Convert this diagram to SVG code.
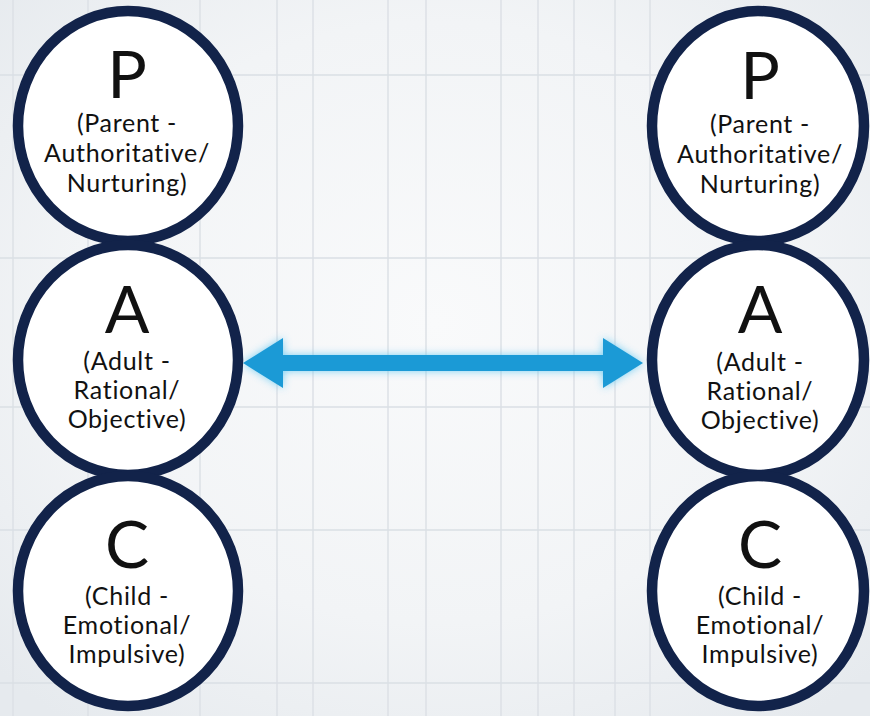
<svg xmlns="http://www.w3.org/2000/svg" width="870" height="716" viewBox="0 0 870 716">
  <defs>
    <radialGradient id="bg" cx="50%" cy="45%" r="70%">
      <stop offset="0" stop-color="#f9fafb"/>
      <stop offset="0.6" stop-color="#f2f4f6"/>
      <stop offset="1" stop-color="#e6eaee"/>
    </radialGradient>
    <filter id="glow" x="-20%" y="-80%" width="140%" height="260%">
      <feGaussianBlur stdDeviation="4"/>
    </filter>
    <style>
      .ring { fill: #ffffff; stroke: #12234a; stroke-width: 10.5; }
      .big { font-family: Lato, "Liberation Sans", sans-serif; font-size: 66px; fill: #111111; text-anchor: middle; }
      .sub { font-family: Lato, "Liberation Sans", sans-serif; font-size: 25px; letter-spacing: 0.7px; font-variant-ligatures: none; fill: #111111; text-anchor: middle; }
      .vg { stroke: #dde1e6; stroke-width: 1.5; }
      .hg { stroke: #dadfe4; stroke-width: 1.5; }
    </style>
  </defs>

  <rect x="0" y="0" width="870" height="716" fill="url(#bg)"/>

  <g id="grid">
    <line class="vg" x1="13" y1="0" x2="13" y2="716"/>
    <line class="vg" x1="88" y1="0" x2="88" y2="716"/>
    <line class="vg" x1="200" y1="0" x2="200" y2="716"/>
    <line class="vg" x1="277" y1="0" x2="277" y2="716"/>
    <line class="vg" x1="313" y1="0" x2="313" y2="716"/>
    <line class="vg" x1="388" y1="0" x2="388" y2="716"/>
    <line class="vg" x1="426" y1="0" x2="426" y2="716"/>
    <line class="vg" x1="501" y1="0" x2="501" y2="716"/>
    <line class="vg" x1="538" y1="0" x2="538" y2="716"/>
    <line class="vg" x1="574" y1="0" x2="574" y2="716"/>
    <line class="vg" x1="615" y1="0" x2="615" y2="716"/>
    <line class="vg" x1="650" y1="0" x2="650" y2="716"/>
    <line class="hg" x1="0" y1="75" x2="870" y2="75"/>
    <line class="hg" x1="0" y1="258" x2="870" y2="258"/>
    <line class="hg" x1="0" y1="407" x2="870" y2="407"/>
    <line class="hg" x1="0" y1="530" x2="870" y2="530"/>
    <line class="hg" x1="0" y1="683" x2="870" y2="683"/>
  </g>

  <g id="connectors">
    <polygon points="243,363 283,338 283,355 603,355 603,338 643,363 603,388 603,371 283,371 283,388" fill="#5cc6f2" opacity="0.8" filter="url(#glow)"/>
    <polygon points="243,363 283,338 283,355 603,355 603,338 643,363 603,388 603,371 283,371 283,388" fill="#1b9ad6"/>
  </g>

  <g id="left-P">
    <ellipse class="ring" cx="128" cy="126" rx="110" ry="115"/>
  </g>
  <g id="left-A">
    <ellipse class="ring" cx="128" cy="360" rx="110" ry="115"/>
  </g>
  <g id="left-C">
    <ellipse class="ring" cx="128" cy="591" rx="110" ry="115"/>
  </g>
  <g id="right-P">
    <ellipse class="ring" cx="758" cy="126" rx="106" ry="115"/>
  </g>
  <g id="right-A">
    <ellipse class="ring" cx="758" cy="360" rx="106" ry="115"/>
  </g>
  <g id="right-C">
    <ellipse class="ring" cx="758" cy="591" rx="106" ry="115"/>
  </g>

  <g id="left-P-text">
    <text class="big" x="127" y="98">P</text>
    <text class="sub" x="127" y="132">(Parent -</text>
    <text class="sub" x="127" y="162">Authoritative/</text>
    <text class="sub" x="127" y="192">Nurturing)</text>
  </g>
  <g id="left-A-text">
    <text class="big" x="127" y="333">A</text>
    <text class="sub" x="127" y="370">(Adult -</text>
    <text class="sub" x="127" y="399">Rational/</text>
    <text class="sub" x="127" y="428">Objective)</text>
  </g>
  <g id="left-C-text">
    <text class="big" x="127" y="568">C</text>
    <text class="sub" x="127" y="605">(Child -</text>
    <text class="sub" x="127" y="634">Emotional/</text>
    <text class="sub" x="127" y="663">Impulsive)</text>
  </g>
  <g id="right-P-text">
    <text class="big" x="760" y="99">P</text>
    <text class="sub" x="760" y="133">(Parent -</text>
    <text class="sub" x="760" y="163">Authoritative/</text>
    <text class="sub" x="760" y="193">Nurturing)</text>
  </g>
  <g id="right-A-text">
    <text class="big" x="760" y="333">A</text>
    <text class="sub" x="760" y="371">(Adult -</text>
    <text class="sub" x="760" y="400">Rational/</text>
    <text class="sub" x="760" y="429">Objective)</text>
  </g>
  <g id="right-C-text">
    <text class="big" x="760" y="568">C</text>
    <text class="sub" x="760" y="605">(Child -</text>
    <text class="sub" x="760" y="634">Emotional/</text>
    <text class="sub" x="760" y="663">Impulsive)</text>
  </g>
</svg>
